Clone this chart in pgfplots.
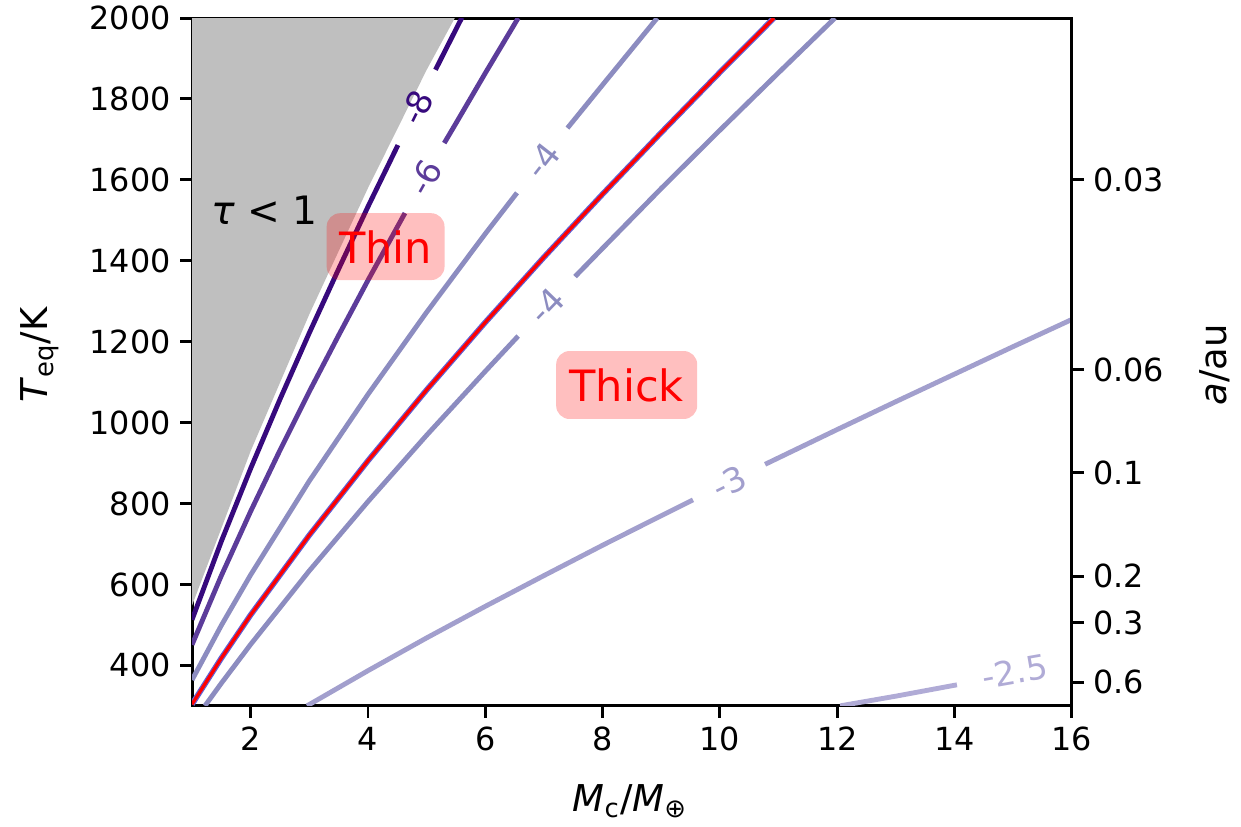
\documentclass[border=0pt]{standalone}
\usepackage{pgfplots}
\pgfplotsset{compat=1.18}
\usepackage{fontspec}
\setmainfont{DejaVu Sans}
\definecolor{c8}{RGB}{55,10,125}
\definecolor{c6}{RGB}{92,60,154}
\definecolor{c4}{RGB}{140,140,192}
\definecolor{c3}{RGB}{162,159,205}
\definecolor{c25}{RGB}{176,171,214}
\definecolor{greyfill}{RGB}{191,191,191}
\pgfplotsset{
  common/.style={
    at={(0,0)}, anchor=south west, scale only axis,
    width=326.2pt, height=255pt,
    xmin=1, xmax=16, ymin=300, ymax=2000,
    tick align=outside, major tick length=4.4pt,
    every tick/.append style={black, line width=1.1pt},
    axis line style={line width=1.1pt},
    ticklabel style={font=\fontsize{11.8}{14}\selectfont},
    /pgf/number format/assume math mode=true,
    /pgf/number format/1000 sep={},
    scaled ticks=false,
  }
}
\begin{document}
\begin{tikzpicture}
\begin{axis}[common,
  xtick={2,4,...,16}, ytick={400,600,...,2000},
  xtick pos=bottom, ytick pos=left]
% tau < 1 region
\addplot[fill=greyfill, draw=none] coordinates {(1,548) (2,930) (3,1268) (4,1580) (5,1872) (5.48,2000) (1,2000)} -- cycle;
% -8
\addplot[c8, line width=1.8pt] coordinates {(1,513) (1.5,707) (2,887) (2.5,1058) (3,1222) (3.5,1380) (4,1534) (4.51,1686)};
\addplot[c8, line width=1.8pt] coordinates {(5.15,1872) (5.6,2001)};
% -6
\addplot[c6, line width=1.8pt] coordinates {(1,451) (1.5,622) (2,781) (2.5,932) (3,1077) (3.5,1216) (4,1352) (4.63,1518)};
\addplot[c6, line width=1.8pt] coordinates {(5.30,1691) (5.5,1740) (6,1864) (6.56,2000)};
% -4 (upper)
\addplot[c4, line width=1.8pt] coordinates {(1,364) (1.5,499) (2,624) (3,856) (4,1070) (5,1273) (6,1467) (6.54,1568)};
\addplot[c4, line width=1.8pt] coordinates {(7.40,1728) (8,1835) (8.93,2000)};
% boundary (red)
\addplot[c4!70!blue, line width=2.1pt] coordinates {(1,304) (1.5,418) (2,525) (3,722) (4,906) (5,1081) (6,1248) (7,1409) (8,1565) (9,1717) (10,1866) (10.92,2000)};
\addplot[red, line width=1.2pt] coordinates {(1,304) (1.5,418) (2,525) (3,722) (4,906) (5,1081) (6,1248) (7,1409) (8,1565) (9,1717) (10,1866) (10.92,2000)};
% -4 (lower)
\addplot[c4, line width=1.8pt] coordinates {(1.22,300) (1.5,356) (2,452) (3,634) (4,805) (5,969) (6,1127) (6.56,1214)};
\addplot[c4, line width=1.8pt] coordinates {(7.53,1361) (8,1431) (9,1579) (10,1723) (11,1865) (11.96,2000)};
% -3
\addplot[c3, line width=1.8pt] coordinates {(2.96,300) (4,387) (5,468) (6,546) (7,622) (8,697) (9,770) (9.54,809)};
\addplot[c3, line width=1.8pt] coordinates {(10.77,897) (12,983) (13,1052) (14,1120) (15,1188) (16,1255)};
% -2.5
\addplot[c25, line width=1.8pt] coordinates {(12.05,300) (13,324) (14.04,352)};
% contour labels
\node[c8, rotate=63.5, font=\fontsize{12.5}{14}\selectfont] at (axis cs:4.83,1779) {-8};
\node[c6, rotate=60.7, font=\fontsize{12.5}{14}\selectfont] at (axis cs:4.965,1605) {-6};
\node[c4, rotate=52, font=\fontsize{12.5}{14}\selectfont] at (axis cs:6.97,1648) {-4};
\node[c4, rotate=46, font=\fontsize{12.5}{14}\selectfont] at (axis cs:7.045,1288) {-4};
\node[c3, rotate=26.2, font=\fontsize{12.5}{14}\selectfont] at (axis cs:10.155,853) {-3};
\node[c25, rotate=10, font=\fontsize{12.5}{14}\selectfont] at (axis cs:15.03,384) {-2.5};
% region labels
\node[font=\fontsize{14.5}{17}\selectfont] at (axis cs:2.24,1526) {\textit{τ} < 1};
\node[fill=red, fill opacity=0.25, text opacity=1, text=red, rounded corners=5pt, minimum width=43.7pt, minimum height=24.8pt, inner sep=0pt, font=\fontsize{16}{19}\selectfont] at (axis cs:4.30,1435) {Thin};
\node[fill=red, fill opacity=0.25, text opacity=1, text=red, rounded corners=5pt, minimum width=52.3pt, minimum height=25.2pt, inner sep=0pt, font=\fontsize{16}{19}\selectfont] at (axis cs:8.41,1093) {Thick};
\end{axis}
\begin{axis}[common,
  axis x line=none, axis y line*=right,
  ytick={1600,1131,876,620,506,358},
  yticklabels={0.03,0.06,0.1,0.2,0.3,0.6}]
\addplot[draw=none] coordinates {(1,300) (16,2000)};
\end{axis}
% axis labels
\node[rotate=90, font=\fontsize{13.7}{16}\selectfont] at (-56.5pt,130pt) {\textit{T}\textsubscript{eq}/K};
\node[rotate=90, font=\fontsize{13.7}{16}\selectfont] at (379.2pt,126.4pt) {\textit{a}/au};
\node[anchor=base, font=\fontsize{13.7}{16}\selectfont] at (162.4pt,-39.3pt) {\textit{M}\textsubscript{c}/\textit{M}\textsubscript{⊕}};
\pgfresetboundingbox
\path[use as bounding box] (-71.2pt,-44.9pt) rectangle (388.9pt,261.7pt);
\end{tikzpicture}
\end{document}
